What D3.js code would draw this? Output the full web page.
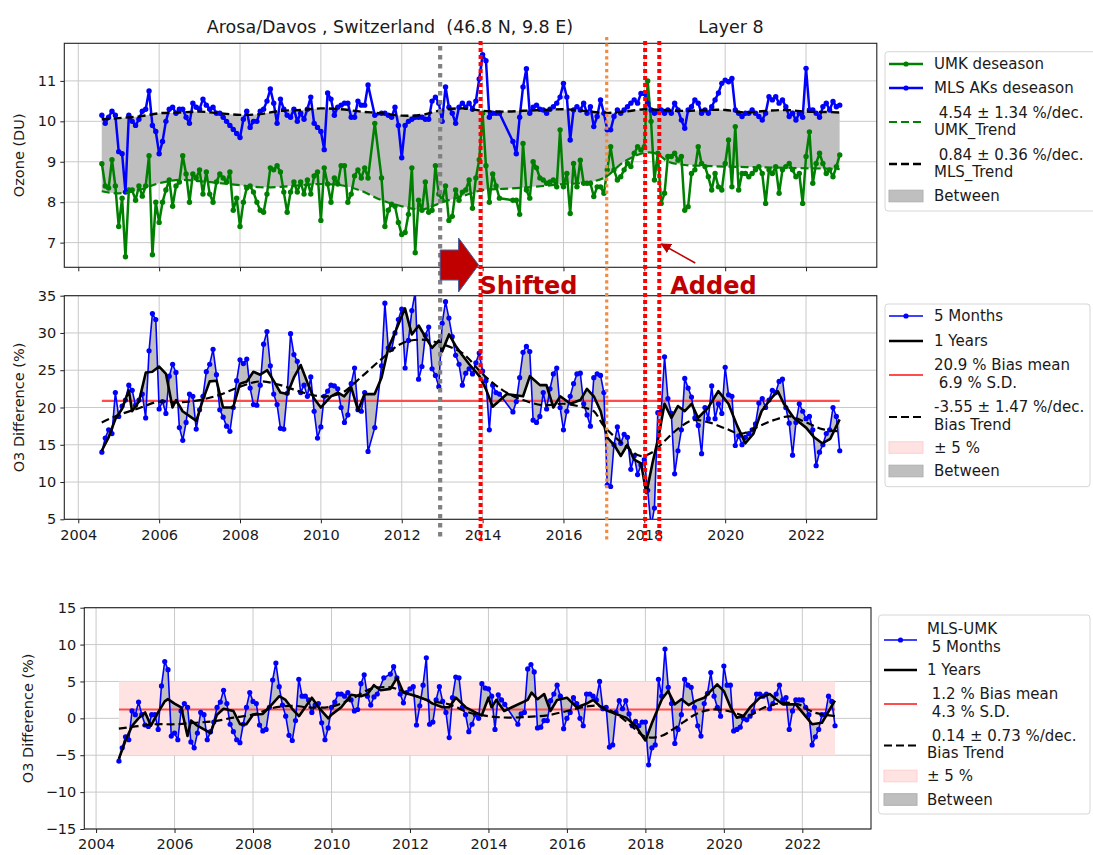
<!DOCTYPE html>
<html><head><meta charset="utf-8">
<script src="https://cdn.jsdelivr.net/npm/d3@7"></script>
<style>
body{margin:0;background:#fff}
svg{display:block}
text{font-family:"DejaVu Sans",sans-serif;fill:#1a1a1a}
</style>
</head><body>
<svg id="chart" width="1093" height="855"></svg>
<script>
// ---------------- DATA ----------------
// monthly series start in Aug 2004 (index 0) ; null = month not present
const firstYear = 2004, firstMonth = 8, nMonths = 220;
const xTickYears = [2004,2006,2008,2010,2012,2014,2016,2018,2020,2022];

const umkDeseason = [
 8.95,8.4,8.35,9.05,8.4,7.4,8.1,6.65,8.3,8.3,8.05,8.4,
 8.15,8.4,9.15,6.7,8.0,7.5,8.0,8.3,8.55,7.9,8.4,8.5,
 9.15,8.7,8.0,8.7,8.6,8.8,8.2,8.75,8.2,8.0,8.5,8.7,
 8.6,8.5,8.75,7.8,8.1,7.4,8.0,8.35,8.4,8.25,8.0,7.8,
 7.75,8.2,8.85,8.8,8.9,8.75,8.25,7.75,8.25,8.5,8.25,8.5,
 8.2,8.55,8.2,8.65,8.75,7.55,8.85,8.45,8.0,8.6,8.45,8.9,
 8.9,8.0,8.2,8.65,8.8,8.6,8.85,8.6,null,9.95,null,8.6,
 7.4,7.8,7.95,7.9,7.5,7.2,7.25,7.7,8.85,6.75,8.05,7.8,
 8.5,7.75,7.8,8.9,8.2,8.05,8.4,7.55,7.65,8.3,8.05,8.25,
 8.3,8.55,7.85,8.6,9.05,10.2,8.9,8.0,8.7,8.4,8.1,null,
 null,null,8.05,8.05,7.7,9.45,8.3,8.1,9.0,8.85,8.6,8.55,
 8.47,8.5,8.55,8.38,9.79,8.38,8.71,7.72,8.96,8.38,9.04,8.47,
 8.47,8.47,8.14,8.38,8.38,8.22,8.8,9.37,8.8,8.55,8.63,8.8,
 8.96,8.88,9.21,9.37,9.29,9.37,11.0,10.0,8.55,9.21,7.97,8.22,
 9.13,9.13,9.21,9.04,9.13,7.8,7.89,8.71,8.8,9.37,8.96,8.88,
 8.63,8.3,8.71,8.38,8.3,8.96,9.54,8.38,9.87,8.3,8.71,8.71,
 8.63,8.71,8.8,8.88,8.71,7.97,8.8,8.71,8.88,8.22,8.8,8.88,
 8.96,8.8,8.63,8.71,7.97,9.13,9.74,8.47,8.96,9.21,8.96,8.71,
 8.8,8.63,8.88,9.17];

const mlsDeseason = [
 10.15,9.95,10.1,10.25,10.15,9.25,9.2,8.25,10.15,10.0,9.9,10.05,
 10.25,10.3,10.75,9.9,9.75,9.2,9.5,10.0,10.3,10.35,10.2,10.3,
 10.3,10.1,9.95,10.45,10.35,10.3,10.55,10.4,10.3,10.35,10.2,10.2,
 10.1,10.0,9.9,9.8,9.7,9.6,10.05,10.25,9.85,10.0,10.0,10.25,
 10.3,10.5,10.8,10.45,9.95,10.55,10.3,10.15,10.1,10.3,10.0,10.2,
 10.05,10.3,10.6,9.95,9.85,9.75,9.3,10.7,10.55,10.15,10.35,10.4,
 10.45,10.45,10.1,10.1,10.5,10.4,10.4,10.9,null,10.15,null,10.2,
 10.2,10.15,10.1,10.35,9.9,9.1,9.9,10.0,10.05,10.1,10.1,10.1,
 10.05,10.05,10.5,10.6,10.45,10.0,10.85,10.35,10.2,9.95,10.35,10.45,
 10.35,10.45,10.3,10.5,11.05,11.65,11.5,10.1,10.2,10.2,10.2,null,
 null,null,9.5,9.2,10.1,10.85,11.3,10.2,10.35,10.4,10.3,10.28,
 10.2,10.3,10.36,10.45,10.6,10.94,10.6,9.54,10.28,10.36,10.28,10.45,
 10.2,10.36,9.87,10.12,10.53,10.2,9.79,9.79,10.12,10.28,10.2,10.28,
 10.36,10.45,10.53,10.45,10.69,10.69,10.45,10.28,10.2,10.25,10.28,10.2,
 10.28,10.2,10.45,10.28,10.03,9.83,10.28,10.36,10.53,10.45,10.2,10.28,
 10.2,10.36,10.53,10.7,10.94,11.02,10.98,11.06,10.28,10.2,10.12,10.2,
 10.2,10.28,10.2,10.12,10.03,10.2,10.61,10.53,10.61,10.45,10.53,10.36,
 10.12,10.2,10.03,10.2,10.1,11.31,10.28,10.28,10.2,10.1,10.36,10.45,
 10.28,10.49,10.36,10.4];

const trendYears = [2004.58,2005.0,2005.5,2006.0,2006.5,2007.0,2007.5,2008.0,2008.5,2009.0,2009.5,2010.0,2010.5,2011.0,2011.5,2012.0,2012.5,2013.0,2013.5,2014.0,2014.5,2015.0,2015.5,2016.0,2016.5,2017.0,2017.5,2018.0,2018.3,2018.6,2019.0,2019.5,2020.0,2020.5,2021.0,2021.5,2022.0,2022.5,2022.83];
const mlsTrend = [10.05,10.08,10.12,10.2,10.22,10.24,10.2,10.16,10.18,10.26,10.28,10.32,10.3,10.24,10.2,10.14,10.16,10.28,10.32,10.26,10.24,10.26,10.28,10.3,10.26,10.21,10.24,10.3,10.29,10.27,10.26,10.28,10.28,10.22,10.26,10.28,10.24,10.23,10.22];
const umkTrend = [8.27,8.22,8.3,8.47,8.55,8.52,8.47,8.42,8.37,8.38,8.42,8.45,8.42,8.28,8.05,7.9,7.82,8.0,8.15,8.3,8.33,8.36,8.4,8.45,8.48,8.6,9.0,9.22,9.2,9.0,8.92,8.9,8.88,8.87,8.86,8.85,8.84,8.83,8.82];

const bias5m = [
 14.0,15.9,17.0,16.5,22.0,18.8,20.2,21.0,23.0,22.3,20.3,21.0,
 21.8,18.6,27.6,32.6,31.8,19.8,20.8,19.2,24.2,25.8,24.7,17.3,
 15.6,18.0,21.8,21.5,17.1,19.7,21.5,24.8,25.8,27.8,24.4,19.7,
 18.7,17.5,16.8,20.0,23.6,26.4,25.9,26.5,22.6,20.4,20.3,23.0,
 28.5,30.2,25.6,21.8,20.4,17.2,17.1,21.9,29.9,27.1,26.2,22.0,
 23.0,21.5,24.1,19.5,15.9,17.4,21.5,22.2,23.0,22.9,22.5,20.0,
 18.0,19.0,23.2,25.3,19.7,19.5,22.0,14.1,null,17.3,null,25.6,
 34.0,28.0,27.8,30.0,31.8,33.2,25.3,29.0,33.0,35.5,23.8,25.5,
 29.7,30.8,25.2,24.3,22.8,31.3,34.2,32.0,29.5,27.0,25.8,23.0,
 24.6,25.2,24.5,26.0,27.3,24.9,23.6,17.0,23.0,22.0,21.8,null,
 null,null,19.4,20.8,24.0,27.4,28.2,27.5,18.3,18.0,18.8,22.0,
 19.8,22.5,24.5,25.3,20.0,17.0,19.5,21.5,23.2,24.5,24.6,20.5,
 19.0,17.5,24.0,24.5,24.3,22.0,9.6,9.4,15.0,17.4,15.2,16.4,
 16.0,11.7,13.5,11.0,12.3,13.0,8.9,4.0,6.5,19.3,19.5,26.8,
 21.2,19.2,11.1,14.2,17.0,23.9,22.6,21.4,18.6,17.6,13.8,20.0,
 18.5,22.9,18.5,20.5,19.2,25.4,21.7,21.5,14.9,16.2,15.0,16.0,
 16.5,17.0,17.8,20.6,21.2,20.0,21.0,22.3,22.0,23.5,23.8,20.0,
 17.9,13.6,18.0,20.5,19.5,18.5,18.8,17.0,12.2,14.0,15.0,16.5,
 17.0,20.0,18.8,14.2];

const bias1yYears = [2004.58,2004.75,2004.92,2005.08,2005.25,2005.33,2005.5,2005.67,2005.83,2006.0,2006.17,2006.33,2006.42,2006.58,2006.92,2007.08,2007.25,2007.42,2007.58,2007.83,2008.0,2008.17,2008.33,2008.5,2008.67,2008.83,2009.0,2009.17,2009.33,2009.5,2009.67,2009.83,2010.0,2010.08,2010.25,2010.42,2010.58,2010.75,2010.92,2011.08,2011.33,2011.5,2011.67,2011.83,2012.08,2012.25,2012.42,2012.58,2012.75,2012.92,2013.0,2013.17,2013.33,2013.5,2013.67,2013.92,2014.08,2014.25,2014.6,2015.0,2015.17,2015.42,2015.58,2015.75,2015.92,2016.17,2016.42,2016.58,2016.75,2016.92,2017.08,2017.25,2017.42,2017.58,2017.75,2017.92,2018.05,2018.2,2018.35,2018.5,2018.67,2018.83,2019.0,2019.17,2019.33,2019.58,2019.83,2020.08,2020.3,2020.5,2020.7,2020.9,2021.1,2021.3,2021.45,2021.7,2022.0,2022.2,2022.4,2022.6,2022.83];
const bias1y = [14.2,16.0,18.5,19.8,22.3,19.5,20.8,24.7,24.8,25.5,24.5,20.0,21.0,19.5,18.2,21.0,23.5,23.6,20.0,20.0,23.2,23.5,24.8,24.4,25.0,23.6,22.0,21.8,24.0,25.7,23.3,21.2,20.0,20.5,21.5,22.0,21.5,22.7,19.6,21.8,21.8,24.0,28.0,30.0,33.3,29.8,31.0,29.5,28.0,29.0,27.5,29.8,28.3,27.0,25.8,24.2,22.5,20.1,21.8,21.5,24.2,23.0,23.0,20.0,21.5,20.5,21.0,22.5,21.5,19.5,16.0,15.0,13.5,15.0,13.0,12.5,8.5,12.5,16.0,20.5,18.6,20.2,19.5,20.5,18.6,20.0,22.2,20.5,17.5,15.2,16.5,19.5,21.0,22.2,20.5,18.6,17.3,16.0,15.2,15.8,18.4];

const biasTrendYears = [2004.58,2005.0,2005.5,2006.0,2006.5,2007.0,2007.5,2008.0,2008.5,2009.0,2009.5,2010.0,2010.5,2011.0,2011.5,2012.0,2012.5,2013.0,2013.5,2014.0,2014.5,2015.0,2015.5,2016.0,2016.5,2016.75,2017.0,2017.5,2017.9,2018.2,2018.5,2018.8,2019.2,2019.6,2020.0,2020.4,2020.8,2021.2,2021.6,2022.0,2022.4,2022.83];
const biasTrend = [18.0,19.0,19.9,20.8,20.7,21.0,21.7,22.8,23.5,23.0,22.1,21.5,21.9,24.1,26.5,28.6,29.1,28.5,27.3,24.5,22.3,21.0,20.3,20.5,20.0,19.5,17.5,15.0,13.5,14.0,15.5,17.0,18.3,18.0,17.2,16.5,17.4,18.3,18.8,18.0,17.1,16.8];

const diff5m = [
 -5.8,-4.0,-2.5,-2.9,1.0,0.5,2.2,0.5,-0.9,-1.1,0.5,0.5,
 -1.5,4.4,7.7,6.6,-2.4,-2.0,-2.9,1.0,2.0,1.5,-3.2,-4.0,
 -2.0,0.8,0.5,-2.9,-1.8,-0.5,1.5,2.2,3.8,2.0,-0.8,-1.8,
 -2.9,-3.3,-0.8,1.5,3.5,2.3,2.0,-0.9,-1.7,-1.5,1.5,5.2,
 7.5,4.3,1.8,0.3,-2.3,-3.0,-0.3,5.3,3.0,3.0,2.5,0.8,
 1.8,2.0,-0.6,-2.9,-1.3,1.5,2.2,3.3,3.3,3.0,3.5,2.5,
 1.0,1.2,4.7,5.9,3.0,1.8,2.9,3.3,null,5.5,null,6.0,
 7.0,5.5,3.3,2.1,3.5,4.0,4.3,-0.9,1.7,4.5,8.2,-0.8,
 -0.5,2.5,4.3,2.3,0.8,-2.6,2.8,5.6,5.5,1.5,0.5,-1.8,
 -0.8,0.5,0.0,4.7,4.1,4.0,3.0,-1.5,3.2,2.5,1.9,null,
 null,null,-0.8,0.6,0.8,6.7,7.3,6.3,-1.3,-1.2,-0.3,-0.3,
 2.4,3.3,4.5,3.0,-1.4,0.0,0.8,2.8,2.0,0.0,-1.0,3.3,
 3.3,3.0,2.5,5.0,1.3,1.5,-3.9,-3.6,0.8,2.4,1.3,2.4,
 0.6,-1.0,-0.4,-1.0,-0.5,-0.5,-6.3,-4.0,-3.6,5.3,3.0,9.4,
 4.2,2.0,-3.4,-1.5,0.5,5.3,4.5,4.2,1.5,-1.0,-2.4,2.0,
 3.4,6.2,3.0,1.5,0.3,7.1,4.5,4.5,-1.7,-1.5,-1.2,0.0,
 -0.2,0.3,0.9,3.3,3.3,3.0,3.3,1.3,2.0,3.3,4.5,2.5,
 2.8,-1.5,1.0,2.5,2.5,2.5,1.5,0.5,-3.6,-2.5,-1.5,0.5,
 0.5,3.0,2.3,-1.0];

const diff1yYears = [2004.58,2004.75,2004.92,2005.08,2005.25,2005.4,2005.58,2005.75,2005.83,2006.0,2006.17,2006.33,2006.42,2006.58,2006.92,2007.08,2007.25,2007.5,2007.67,2007.83,2008.0,2008.25,2008.5,2008.67,2008.83,2009.0,2009.17,2009.5,2009.67,2009.92,2010.0,2010.25,2010.5,2010.75,2010.92,2011.08,2011.25,2011.5,2011.67,2011.83,2012.17,2012.42,2012.58,2012.83,2013.0,2013.17,2013.42,2013.67,2013.83,2014.0,2014.08,2014.2,2014.4,2014.6,2015.0,2015.1,2015.25,2015.42,2015.58,2015.75,2016.0,2016.25,2016.5,2016.67,2016.83,2017.0,2017.5,2017.75,2018.0,2018.17,2018.42,2018.58,2018.75,2018.92,2019.1,2019.3,2019.5,2019.83,2020.0,2020.17,2020.33,2020.5,2020.67,2020.92,2021.17,2021.33,2021.5,2021.83,2022.08,2022.25,2022.5,2022.83];
const diff1y = [-5.5,-3.0,-1.0,0.0,0.8,-1.0,0.8,2.3,2.6,2.0,1.5,-2.4,-0.3,-1.0,-2.0,0.5,1.3,1.0,-0.8,-0.8,0.5,0.6,2.0,3.0,2.5,1.3,0.3,2.8,1.5,0.0,0.5,1.5,3.2,3.0,3.3,4.5,3.8,4.0,5.5,3.5,3.0,2.5,2.0,1.5,1.5,2.8,1.5,0.8,0.4,2.8,1.5,2.5,1.0,1.5,2.5,3.5,2.6,3.3,1.0,2.5,2.8,1.5,2.0,2.5,1.7,1.1,0.1,-1.0,-3.0,-0.6,2.6,3.7,1.9,2.6,1.8,2.4,2.8,4.6,3.7,1.5,0.1,0.3,1.5,2.8,3.3,2.6,1.9,1.9,0.3,-0.8,-0.6,2.4];

const diffTrendYears = [2004.58,2005.0,2005.5,2006.0,2006.5,2007.0,2007.5,2008.0,2008.5,2009.0,2009.5,2010.0,2010.5,2011.0,2011.5,2012.0,2012.5,2013.0,2013.5,2014.0,2014.5,2015.0,2015.5,2016.0,2016.5,2016.8,2017.2,2017.6,2018.0,2018.4,2018.7,2019.0,2019.3,2019.7,2020.2,2020.6,2021.0,2021.5,2021.9,2022.3,2022.83];
const diffTrend = [-1.4,-1.1,-0.8,-0.8,-0.6,-0.4,0.1,0.5,1.4,1.7,1.45,1.6,2.6,4.0,4.2,3.3,2.4,1.9,0.8,0.3,0.1,0.2,0.4,1.0,1.6,1.7,0.8,-0.8,-2.5,-2.4,-1.5,-0.4,0.6,1.2,0.9,0.3,1.4,2.1,1.9,0.8,0.3];

const biasMeanMid = 20.9, biasMeanBot = 1.2, bandHalf = 5;
const eventLines = [
  {year: 2012.95, color: "#808080", width: 4.2, dash: "4.5,4.5", top: 46},
  {year: 2013.95, color: "#ff0000", width: 4, dash: "4,3", top: 41},
  {year: 2017.07, color: "#f58a3c", width: 3.2, dash: "3.2,3.2", top: 37},
  {year: 2018.02, color: "#ff0000", width: 4, dash: "4,3", top: 41},
  {year: 2018.37, color: "#ff0000", width: 4, dash: "4,3", top: 41}
];

// ---------------- DRAW ----------------
(function () {
const svg = d3.select("#chart");
const monthYear = i => firstYear + (firstMonth - 1) / 12 + i / 12;
const pts = arr => arr.map((v, i) => v == null ? null : [monthYear(i), v]).filter(d => d);
const zipPts = (xs, ys) => xs.map((x, i) => [x, ys[i]]);
const SMOOTH = d3.curveCatmullRom.alpha(0.5), LIN = d3.curveLinear;

let clipId = 0;
function makePanel(c) {
  const x = d3.scaleLinear().domain(c.xDomain).range([c.left, c.right]);
  const y = d3.scaleLinear().domain(c.yDomain).range([c.bottom, c.top]);
  const g = svg.append("g");
  const id = "clip" + (clipId++);
  svg.append("clipPath").attr("id", id).append("rect")
    .attr("x", c.left).attr("y", c.top).attr("width", c.right - c.left).attr("height", c.bottom - c.top);
  const grid = g.append("g").attr("stroke", "#c9c9c9").attr("stroke-width", 1);
  grid.selectAll(".gx").data(xTickYears).join("line")
    .attr("x1", d => x(d)).attr("x2", d => x(d)).attr("y1", c.top).attr("y2", c.bottom);
  grid.selectAll(".gy").data(c.yTicks).join("line")
    .attr("x1", c.left).attr("x2", c.right).attr("y1", d => y(d)).attr("y2", d => y(d));
  const plot = g.append("g").attr("clip-path", `url(#${id})`);
  const ax = g.append("g").attr("transform", `translate(0,${c.bottom})`)
    .call(d3.axisBottom(x).tickValues(xTickYears).tickSize(4).tickPadding(4)
      .tickFormat(c.xLabels ? d3.format("d") : ""));
  const ay = g.append("g").attr("transform", `translate(${c.left},0)`)
    .call(d3.axisLeft(y).tickValues(c.yTicks).tickSize(4).tickPadding(4).tickFormat(d3.format("d")));
  [ax, ay].forEach(a => {
    a.select(".domain").remove();
    a.selectAll("line").attr("stroke", "#222");
    a.selectAll("text").attr("font-size", 14.5).attr("fill", "#222")
      .attr("font-family", '"DejaVu Sans",sans-serif');
  });
  ax.selectAll("text").attr("dy", "0.85em");
  g.append("rect").attr("x", c.left).attr("y", c.top).attr("width", c.right - c.left)
    .attr("height", c.bottom - c.top).attr("fill", "none").attr("stroke", "#222").attr("stroke-width", 1.1);
  svg.append("text").attr("transform", `translate(${c.labelX},${(c.top + c.bottom) / 2}) rotate(-90)`)
    .attr("text-anchor", "middle").attr("dy", "0.35em").attr("font-size", 14.5).text(c.yLabel);
  return {x, y, plot};
}

function linePath(p, data, curve) {
  return d3.line().x(d => p.x(d[0])).y(d => p.y(d[1])).curve(curve || LIN)(data);
}
function between(p, a, curveA, b, curveB) {
  const pa = linePath(p, a, curveA);
  const pb = linePath(p, b.slice().reverse(), curveB);
  return pa + "L" + pb.slice(1) + "Z";
}
function drawLine(p, data, color, width, dash, markers, r, curve) {
  p.plot.append("path").attr("d", linePath(p, data, curve)).attr("fill", "none")
    .attr("stroke", color).attr("stroke-width", width).attr("stroke-linejoin", "round")
    .attr("stroke-dasharray", dash || null);
  if (markers) {
    p.plot.append("g").selectAll("circle").data(data).join("circle")
      .attr("cx", d => p.x(d[0])).attr("cy", d => p.y(d[1])).attr("r", r || 2.6).attr("fill", color);
  }
}

// ----- top panel -----
const pTop = makePanel({left: 64.3, right: 876.8, top: 43.3, bottom: 267.3,
  xDomain: [2003.654, 2023.75], yDomain: [6.39, 11.93], yTicks: [7, 8, 9, 10, 11],
  xLabels: false, yLabel: "Ozone (DU)", labelX: 19});
const mlsT = zipPts(trendYears, mlsTrend), umkT = zipPts(trendYears, umkTrend);
pTop.plot.append("path").attr("d", between(pTop, mlsT, SMOOTH, umkT, SMOOTH)).attr("fill", "#bfbfbf");
drawLine(pTop, pts(umkDeseason), "#008000", 2.5, null, true, 2.7);
drawLine(pTop, pts(mlsDeseason), "#0000ff", 2.5, null, true, 2.7);
drawLine(pTop, umkT, "#008000", 2.2, "8,4", false, 0, SMOOTH);
drawLine(pTop, mlsT, "#000000", 2.4, "8,4", false, 0, SMOOTH);

// ----- middle panel -----
const pMid = makePanel({left: 64.3, right: 876.8, top: 295.7, bottom: 519.3,
  xDomain: [2003.654, 2023.75], yDomain: [5, 35], yTicks: [5, 10, 15, 20, 25, 30, 35],
  xLabels: true, yLabel: "O3 Difference (%)", labelX: 19});
const b5 = pts(bias5m), b1 = zipPts(bias1yYears, bias1y);
pMid.plot.append("path").attr("d", between(pMid, b5, LIN, b1, LIN)).attr("fill", "#bfbfbf");
pMid.plot.append("line").attr("x1", pMid.x(monthYear(0))).attr("x2", pMid.x(monthYear(nMonths - 1)))
  .attr("y1", pMid.y(biasMeanMid)).attr("y2", pMid.y(biasMeanMid)).attr("stroke", "#ff4d4d").attr("stroke-width", 2.2);
drawLine(pMid, b5, "#0000ff", 1.6, null, true, 2.6);
drawLine(pMid, b1, "#000000", 2.6);
drawLine(pMid, zipPts(biasTrendYears, biasTrend), "#000000", 2.2, "8,4", false, 0, SMOOTH);

// ----- bottom panel -----
const pBot = makePanel({left: 84.3, right: 871, top: 607.7, bottom: 829,
  xDomain: [2003.70, 2023.75], yDomain: [-15, 15], yTicks: [-15, -10, -5, 0, 5, 10, 15],
  xLabels: true, yLabel: "O3 Difference (%)", labelX: 28});
pBot.plot.append("rect").attr("x", pBot.x(monthYear(0))).attr("width", pBot.x(monthYear(nMonths - 1)) - pBot.x(monthYear(0)))
  .attr("y", pBot.y(bandHalf)).attr("height", pBot.y(-bandHalf) - pBot.y(bandHalf)).attr("fill", "#ffe2e2");
const d5 = pts(diff5m), d1 = zipPts(diff1yYears, diff1y);
pBot.plot.append("path").attr("d", between(pBot, d5, LIN, d1, LIN)).attr("fill", "#bfbfbf");
pBot.plot.append("line").attr("x1", pBot.x(monthYear(0))).attr("x2", pBot.x(monthYear(nMonths - 1)))
  .attr("y1", pBot.y(biasMeanBot)).attr("y2", pBot.y(biasMeanBot)).attr("stroke", "#ff4d4d").attr("stroke-width", 2.2);
drawLine(pBot, d5, "#0000ff", 1.6, null, true, 2.6);
drawLine(pBot, d1, "#000000", 2.6);
drawLine(pBot, zipPts(diffTrendYears, diffTrend), "#000000", 2.2, "8,4", false, 0, SMOOTH);

// ----- titles -----
svg.append("text").attr("x", 390).attr("y", 33).attr("text-anchor", "middle").attr("font-size", 17.5)
  .style("white-space", "pre").text("Arosa/Davos , Switzerland  (46.8 N, 9.8 E)");
svg.append("text").attr("x", 731).attr("y", 33).attr("text-anchor", "middle").attr("font-size", 17.5).text("Layer 8");

// ----- legends -----
function legend(box, hx0, hx1, tx, entries) {
  svg.append("rect").attr("x", box[0]).attr("y", box[1]).attr("width", box[2]).attr("height", box[3])
    .attr("rx", 3).attr("fill", "#fff").attr("stroke", "#d6d6d6");
  entries.forEach(e => {
    if (e.kind === "line") {
      svg.append("line").attr("x1", hx0).attr("x2", hx1).attr("y1", e.hy).attr("y2", e.hy)
        .attr("stroke", e.color).attr("stroke-width", e.w).attr("stroke-dasharray", e.dash || null);
      if (e.marker) svg.append("circle").attr("cx", (hx0 + hx1) / 2).attr("cy", e.hy).attr("r", 2.6).attr("fill", e.color);
    } else {
      svg.append("rect").attr("x", hx0).attr("y", e.hy - 5.8).attr("width", hx1 - hx0).attr("height", 11.6)
        .attr("fill", e.color).attr("stroke", e.stroke);
    }
    e.text.forEach(([t, ty]) => svg.append("text").attr("x", tx).attr("y", ty).attr("dy", "0.36em")
      .attr("font-size", 15).style("white-space", "pre").text(t));
  });
}
legend([885, 51.7, 215, 159.3], 889, 923, 934, [
  {kind: "line", color: "#008000", w: 2.5, marker: true, hy: 64, text: [["UMK deseason", 64]]},
  {kind: "line", color: "#0000ff", w: 2.5, marker: true, hy: 88, text: [["MLS AKs deseason", 88]]},
  {kind: "line", color: "#008000", w: 2.2, dash: "8,4", hy: 122, text: [[" 4.54 \u00b1 1.34 %/dec.", 113], ["UMK_Trend", 130]]},
  {kind: "line", color: "#000000", w: 2.4, dash: "8,4", hy: 164, text: [[" 0.84 \u00b1 0.36 %/dec.", 155], ["MLS_Trend", 172]]},
  {kind: "patch", color: "#bfbfbf", stroke: "#b0b0b0", hy: 196, text: [["Between", 196]]}
]);
legend([885, 304, 205, 182.7], 889, 923, 934, [
  {kind: "line", color: "#0000ff", w: 1.6, marker: true, hy: 316, text: [["5 Months", 316]]},
  {kind: "line", color: "#000000", w: 2.6, hy: 341, text: [["1 Years", 341]]},
  {kind: "line", color: "#ff4d4d", w: 2.2, hy: 375, text: [["20.9 % Bias mean", 364.5], [" 6.9 % S.D.", 383]]},
  {kind: "line", color: "#000000", w: 2.2, dash: "8,4", hy: 417, text: [["-3.55 \u00b1 1.47 %/dec.", 407], ["Bias Trend", 424.5]]},
  {kind: "patch", color: "#ffe2e2", stroke: "#ffd0d0", hy: 447.5, text: [["\u00b1 5 %", 447.5]]},
  {kind: "patch", color: "#bfbfbf", stroke: "#b0b0b0", hy: 471, text: [["Between", 471]]}
]);
legend([878.6, 615, 211.4, 199], 884, 917, 927, [
  {kind: "line", color: "#0000ff", w: 1.6, marker: true, hy: 640, text: [["MLS-UMK", 629], [" 5 Months", 647]]},
  {kind: "line", color: "#000000", w: 2.6, hy: 670, text: [["1 Years", 670]]},
  {kind: "line", color: "#ff4d4d", w: 2.2, hy: 704, text: [[" 1.2 % Bias mean", 693.5], [" 4.3 % S.D.", 712]]},
  {kind: "line", color: "#000000", w: 2.2, dash: "8,4", hy: 745.5, text: [[" 0.14 \u00b1 0.73 %/dec.", 736], ["Bias Trend", 752.5]]},
  {kind: "patch", color: "#ffe2e2", stroke: "#ffd0d0", hy: 776, text: [["\u00b1 5 %", 776]]},
  {kind: "patch", color: "#bfbfbf", stroke: "#b0b0b0", hy: 799.5, text: [["Between", 799.5]]}
]);

// ----- event lines & annotations -----
eventLines.forEach(e => {
  svg.append("line").attr("x1", pTop.x(e.year)).attr("x2", pTop.x(e.year)).attr("y1", e.top).attr("y2", 541)
    .attr("stroke", e.color).attr("stroke-width", e.width).attr("stroke-dasharray", e.dash);
});
const xa = pTop.x(eventLines[0].year), xb = pTop.x(eventLines[1].year) - 2;
const cy = 265;
svg.append("path").attr("d", `M${xa},${cy - 15}L${xb - 20},${cy - 15}L${xb - 20},${cy - 27}L${xb},${cy}L${xb - 20},${cy + 27}L${xb - 20},${cy + 15}L${xa},${cy + 15}Z`)
  .attr("fill", "#c00000").attr("stroke", "#3f5f9a").attr("stroke-width", 1);
svg.append("text").attr("x", xb + 1).attr("y", 294).attr("font-size", 24).attr("font-weight", 700)
  .attr("font-family", '"Open Sans",sans-serif').style("fill", "#c00000").text("Shifted");
svg.append("text").attr("x", pTop.x(eventLines[4].year) + 11).attr("y", 294).attr("font-size", 24).attr("font-weight", 700)
  .attr("font-family", '"Open Sans",sans-serif').style("fill", "#c00000").text("Added");
const defs = svg.append("defs");
defs.append("marker").attr("id", "ah").attr("viewBox", "0 0 10 10").attr("refX", 9).attr("refY", 5)
  .attr("markerWidth", 7).attr("markerHeight", 7).attr("orient", "auto")
  .append("path").attr("d", "M0,0L10,5L0,10Z").attr("fill", "#c00000");
const xs = pTop.x(eventLines[4].year);
svg.append("line").attr("x1", xs + 36).attr("y1", 263).attr("x2", xs + 2).attr("y2", 244)
  .attr("stroke", "#c00000").attr("stroke-width", 1.5).attr("marker-end", "url(#ah)");
})();
</script>
</body></html>
